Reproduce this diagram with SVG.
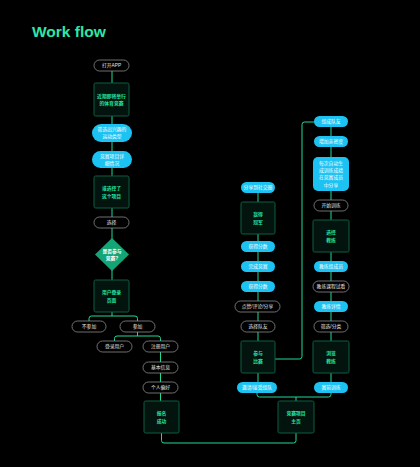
<svg xmlns="http://www.w3.org/2000/svg" width="420" height="467" viewBox="0 0 420 467">
<style>
.bg{fill:#000}
.ln{fill:none;stroke:#1fd99a;stroke-width:1}
.box{fill:#03140e;stroke:#0f5e42;stroke-width:1}
.bp{fill:#1cc2f2}
.dp{fill:#000;stroke:#8c8c8c;stroke-width:0.8}
.dia{fill:#14a577}
text{font-family:"Liberation Sans","Noto Sans CJK SC",sans-serif;font-size:4.8px;text-anchor:middle}
.gt{fill:#24e3a1;font-weight:bold}
.wt{fill:#fff}
.lt{fill:#e6e6e6}
.title{font-size:15.5px;font-weight:bold;fill:#2fe6a8;text-anchor:start}
</style>
<rect class="bg" x="0" y="0" width="420" height="467"/>
<text class="title" x="32" y="37">Work flow</text>

<g id="connectors">
<path class="ln" d="M112,71 V280"/>
<path class="ln" d="M112,312 V316"/>
<path class="ln" d="M89,321 V318.5 Q89,316 91.5,316 H135 Q137.5,316 137.5,318.5 V321"/>
<path class="ln" d="M137.5,332 V336"/>
<path class="ln" d="M114.5,341 V338.5 Q114.5,336 117,336 H158 Q160.5,336 160.5,338.5 V341"/>
<path class="ln" d="M160.5,352 V401"/>
<path class="ln" d="M161.5,433 V440.5 Q161.5,443 164,443 H293.5 Q296,443 296,440.5 V433"/>
<path class="ln" d="M258,193 V382"/>
<path class="ln" d="M257,393 V394.5 Q257,397 259.5,397 H328.5 Q331,397 331,394.5 V393"/>
<path class="ln" d="M296,397 V401"/>
<path class="ln" d="M331,127 V382"/>
<path class="ln" d="M275,359 H299.5 Q302,359 302,356.5 V124.5 Q302,122 304.5,122 H314"/>
</g>

<g id="n-open">
<rect class="dp" x="94" y="60" width="35" height="11" rx="5.5"/>
<text class="lt" x="111.5" y="67.3">打开APP</text>
</g>
<g id="n-recent">
<rect class="box" x="94" y="83" width="35" height="33" rx="1.5"/>
<text class="gt" x="111.5" y="97.6">近期即将举行</text>
<text class="gt" x="111.5" y="105.1">的体育竞赛</text>
</g>
<g id="n-filter">
<rect class="bp" x="92" y="124" width="40" height="18" rx="9"/>
<text class="wt" x="112" y="131.3">筛选出兴趣的</text>
<text class="wt" x="112" y="138.3">运动类型</text>
</g>
<g id="n-detail">
<rect class="bp" x="92" y="151" width="40" height="17" rx="8.5"/>
<text class="wt" x="112" y="157.8">竞赛项目详</text>
<text class="wt" x="112" y="164.8">细情况</text>
</g>
<g id="n-who">
<rect class="box" x="94" y="176" width="35" height="32" rx="1.5"/>
<text class="gt" x="111.5" y="190.2">谁选择了</text>
<text class="gt" x="111.5" y="197.7">这个项目</text>
</g>
<g id="n-choose">
<rect class="dp" x="94" y="217" width="35" height="11" rx="5.5"/>
<text class="lt" x="111.5" y="224.3">选择</text>
</g>
<g id="n-decide">
<polygon class="dia" points="112,238 129,254.5 112,271 95,254.5"/>
<text class="wt" x="112" y="252.8" font-weight="bold">是否参与</text>
<text class="wt" x="112" y="260" font-weight="bold">竞赛?</text>
</g>
<g id="n-login-page">
<rect class="box" x="94" y="280" width="35" height="32" rx="1.5"/>
<text class="gt" x="111.5" y="294.2">用户登录</text>
<text class="gt" x="111.5" y="301.7">页面</text>
</g>
<g id="n-no">
<rect class="dp" x="72" y="321" width="34" height="11" rx="5.5"/>
<text class="lt" x="89" y="328.3">不参加</text>
</g>
<g id="n-yes">
<rect class="dp" x="120" y="321" width="35" height="11" rx="5.5"/>
<text class="lt" x="137.5" y="328.3">参加</text>
</g>
<g id="n-login">
<rect class="dp" x="97" y="341" width="35" height="11" rx="5.5"/>
<text class="lt" x="114.5" y="348.3">登录用户</text>
</g>
<g id="n-register">
<rect class="dp" x="143" y="341" width="35" height="11" rx="5.5"/>
<text class="lt" x="160.5" y="348.3">注册用户</text>
</g>
<g id="n-info">
<rect class="dp" x="143" y="362" width="35" height="11" rx="5.5"/>
<text class="lt" x="160.5" y="369.3">基本信息</text>
</g>
<g id="n-pref">
<rect class="dp" x="143" y="382" width="35" height="11" rx="5.5"/>
<text class="lt" x="160.5" y="389.3">个人偏好</text>
</g>
<g id="n-signed">
<rect class="box" x="144" y="401" width="35" height="32" rx="1.5"/>
<text class="gt" x="161.5" y="415.2">报名</text>
<text class="gt" x="161.5" y="422.7">成功</text>
</g>

<g id="n-share">
<rect class="bp" x="241" y="182" width="34" height="11" rx="5.5"/>
<text class="wt" x="258" y="189.3">分享到社交圈</text>
</g>
<g id="n-champion">
<rect class="box" x="241" y="202" width="34" height="32" rx="1.5"/>
<text class="gt" x="258" y="216.2">赢得</text>
<text class="gt" x="258" y="223.7">冠军</text>
</g>
<g id="n-score1">
<rect class="bp" x="241" y="241" width="34" height="11" rx="5.5"/>
<text class="wt" x="258" y="248.3">获得分数</text>
</g>
<g id="n-finish">
<rect class="bp" x="241" y="261" width="34" height="11" rx="5.5"/>
<text class="wt" x="258" y="268.3">完成竞赛</text>
</g>
<g id="n-score2">
<rect class="bp" x="241" y="281" width="34" height="11" rx="5.5"/>
<text class="wt" x="258" y="288.3">获得分数</text>
</g>
<g id="n-like">
<rect class="dp" x="235" y="301" width="45" height="11" rx="5.5"/>
<text class="lt" x="257.5" y="308.3">点赞/评论/分享</text>
</g>
<g id="n-mate">
<rect class="dp" x="241" y="321" width="34" height="11" rx="5.5"/>
<text class="lt" x="258" y="328.3">选择队友</text>
</g>
<g id="n-join">
<rect class="box" x="241" y="341" width="34" height="32" rx="1.5"/>
<text class="gt" x="258" y="355.2">参与</text>
<text class="gt" x="258" y="362.7">比赛</text>
</g>
<g id="n-invite">
<rect class="bp" x="237" y="382" width="40" height="11" rx="5.5"/>
<text class="wt" x="257" y="389.3">邀请/接受组队</text>
</g>

<g id="n-team">
<rect class="bp" x="314" y="116" width="34" height="11" rx="5.5"/>
<text class="wt" x="331" y="123.3">组成队友</text>
</g>
<g id="n-intimacy">
<rect class="bp" x="314" y="136" width="34" height="11" rx="5.5"/>
<text class="wt" x="331" y="143.3">增加亲密度</text>
</g>
<g id="n-auto">
<rect class="bp" x="313" y="157" width="36" height="34" rx="5"/>
<text class="wt" x="331" y="164.8">每次自动生</text>
<text class="wt" x="331" y="172.1">成训练成绩</text>
<text class="wt" x="331" y="179.4">在竞赛成员</text>
<text class="wt" x="331" y="186.7">中分享</text>
</g>
<g id="n-train">
<rect class="dp" x="314" y="200" width="34" height="11" rx="5.5"/>
<text class="lt" x="331" y="207.3">开始训练</text>
</g>
<g id="n-coach">
<rect class="box" x="313" y="220" width="36" height="32" rx="1.5"/>
<text class="gt" x="331" y="234.2">选择</text>
<text class="gt" x="331" y="241.7">教练</text>
</g>
<g id="n-coach-team">
<rect class="bp" x="314" y="261" width="34" height="11" rx="5.5"/>
<text class="wt" x="331" y="268.3">教练组成员</text>
</g>
<g id="n-trial">
<rect class="dp" x="313" y="281" width="36" height="11" rx="5.5"/>
<text class="lt" x="331" y="288.3">教练课程试看</text>
</g>
<g id="n-coach-detail">
<rect class="bp" x="314" y="301" width="34" height="11" rx="5.5"/>
<text class="wt" x="331" y="308.3">教练详情</text>
</g>
<g id="n-sort">
<rect class="dp" x="314" y="321" width="34" height="11" rx="5.5"/>
<text class="lt" x="331" y="328.3">筛选/分类</text>
</g>
<g id="n-browse">
<rect class="box" x="313" y="341" width="36" height="32" rx="1.5"/>
<text class="gt" x="331" y="355.2">浏览</text>
<text class="gt" x="331" y="362.7">教练</text>
</g>
<g id="n-pretrain">
<rect class="bp" x="314" y="382" width="34" height="11" rx="5.5"/>
<text class="wt" x="331" y="389.3">赛前训练</text>
</g>

<g id="n-home">
<rect class="box" x="278" y="401" width="36" height="32" rx="1.5"/>
<text class="gt" x="296" y="415.2">竞赛项目</text>
<text class="gt" x="296" y="422.7">主页</text>
</g>
</svg>
